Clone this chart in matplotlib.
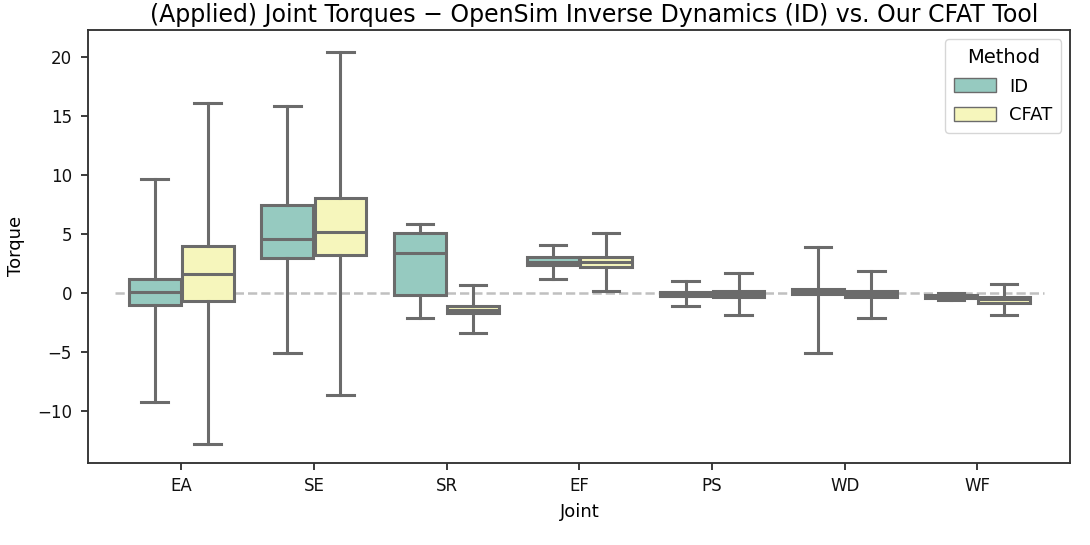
import numpy as np
import matplotlib
matplotlib.use('Agg')
import matplotlib.pyplot as plt
from matplotlib.patches import Patch

# joints on the x axis
joints = ['EA', 'SE', 'SR', 'EF', 'PS', 'WD', 'WF']
methods = ['ID', 'CFAT']

# box stats (whiskers go to min / max)
id_low = [-9.27, -5.11, -2.15, 1.19, -1.13, -5.08, -0.59]
id_q1 = [-1.02, 2.94, -0.17, 2.37, -0.23, -0.08, -0.45]
id_med = [0.11, 4.60, 3.39, 2.60, -0.05, 0.12, -0.30]
id_q3 = [1.21, 7.43, 5.06, 3.03, 0.06, 0.31, -0.17]
id_high = [9.63, 15.82, 5.85, 4.07, 0.99, 3.90, 0.03]

cfat_low = [-12.82, -8.67, -3.42, 0.20, -1.89, -2.14, -1.86]
cfat_q1 = [-0.68, 3.19, -1.67, 2.23, -0.31, -0.31, -0.82]
cfat_med = [1.58, 5.14, -1.44, 2.65, -0.08, -0.07, -0.55]
cfat_q3 = [4.01, 8.02, -1.07, 3.02, 0.14, 0.17, -0.31]
cfat_high = [16.07, 20.40, 0.68, 5.06, 1.67, 1.89, 0.76]

colors = {'ID': '#96cac0', 'CFAT': '#f6f6bc'}
line_col = '#6b6b6b'


def make_stats(low, q1, med, q3, high):
	stats = []
	for i in range(len(low)):
		stats.append({'whislo': low[i], 'q1': q1[i], 'med': med[i],
					  'q3': q3[i], 'whishi': high[i], 'fliers': []})
	return stats


def main():
	fig, ax = plt.subplots(figsize=(10.9, 5.45), dpi=100)
	x = np.arange(len(joints))

	series = {
		'ID': make_stats(id_low, id_q1, id_med, id_q3, id_high),
		'CFAT': make_stats(cfat_low, cfat_q1, cfat_med, cfat_q3, cfat_high),
	}
	offsets = {'ID': -0.2, 'CFAT': 0.2}

	lw = 2.2
	lprops = dict(color=line_col, linewidth=lw)
	for m in methods:
		ax.bxp(series[m], positions=x + offsets[m], widths=0.39,
			   patch_artist=True, manage_ticks=False,
			   boxprops=dict(facecolor=colors[m], edgecolor=line_col, linewidth=lw),
			   medianprops=lprops, whiskerprops=lprops, capprops=lprops,
			   capwidths=0.2, zorder=2)

	ax.plot([-0.5, len(joints) - 0.5], [0, 0], color='#c0c0c0', linestyle='--',
			linewidth=1.8, zorder=1)

	ax.set_xticks(x)
	ax.set_xticklabels(joints)
	ax.set_xlim(-0.7, len(joints) - 0.3)
	ax.set_ylim(-14.4, 22.3)
	ax.set_yticks([-10, -5, 0, 5, 10, 15, 20])

	for s in ax.spines.values():
		s.set_color('#333333')
		s.set_linewidth(1.35)
	ax.tick_params(colors='#333333', labelcolor='#111111', labelsize=12,
				   width=1.35, length=4.7, pad=5.5)
	ax.tick_params(axis='y', pad=7)

	ax.set_xlabel('Joint', fontsize=13, labelpad=6)
	ax.set_ylabel('Torque', fontsize=13, labelpad=9)
	ax.set_title('(Applied) Joint Torques \u2212 OpenSim Inverse Dynamics (ID) vs. Our CFAT Tool',
				 fontsize=17, pad=6, x=0.515)

	handles = [Patch(facecolor=colors[m], edgecolor=line_col, label=m) for m in methods]
	ax.legend(handles=handles, title='Method', loc='upper right', fontsize=13,
			  title_fontsize=14, handlelength=2.3, handleheight=0.8,
			  labelspacing=0.58, handletextpad=0.75, borderpad=0.5)

	fig.subplots_adjust(left=0.081, right=0.982, top=0.945, bottom=0.151)
	fig.savefig('out.png')


if __name__ == '__main__':
	main()
